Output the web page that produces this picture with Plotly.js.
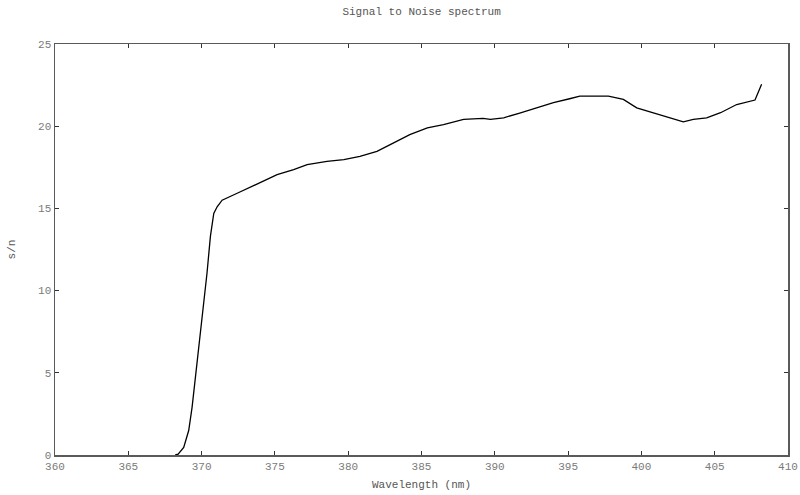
<!DOCTYPE html>
<html>
<head>
<meta charset="utf-8">
<script src="https://cdn.plot.ly/plotly-3.0.1.min.js"></script>
<style>html,body{margin:0;padding:0;background:#fff;}#chart{width:800px;height:495px;}</style>
</head>
<body>
<div id="chart"></div>
<script>
const wavelength = [368.2, 368.4, 368.78, 369.12, 369.35, 369.69, 370.03, 370.37, 370.6, 370.83, 371.06, 371.4, 372.5, 373.5, 374.4, 375.15, 376.28, 377.2, 378.55, 379.7, 380.8, 381.96, 383.1, 384.2, 385.4, 386.5, 387.87, 389.2, 389.7, 390.6, 391.7, 392.87, 394.0, 395.1, 395.8, 397.75, 398.77, 399.68, 400.8, 401.95, 402.86, 403.54, 404.45, 405.4, 406.5, 407.75, 408.2];
const snr = [0, 0.05, 0.46, 1.49, 2.9, 5.57, 8.2, 11.07, 13.3, 14.7, 15.1, 15.5, 15.95, 16.35, 16.75, 17.05, 17.36, 17.66, 17.86, 17.97, 18.17, 18.47, 18.99, 19.49, 19.9, 20.1, 20.41, 20.47, 20.41, 20.51, 20.8, 21.12, 21.43, 21.67, 21.83, 21.83, 21.63, 21.12, 20.82, 20.51, 20.27, 20.41, 20.51, 20.82, 21.32, 21.59, 22.55];
const xTicks = [360, 365, 370, 375, 380, 385, 390, 395, 400, 405, 410];
const yTicks = [0, 5, 10, 15, 20, 25];

const mono = '"Liberation Mono", "DejaVu Sans Mono", monospace';
const tickFont = {family: mono, size: 11, color: '#7a7a7a'};
const titleFont = {family: mono, size: 11, color: '#555'};
const axisCommon = {
  showgrid: false, zeroline: false, showline: true, linecolor: '#5a5a5a', linewidth: 1.5,
  mirror: 'ticks', ticks: 'inside', ticklen: 4, tickcolor: '#333', tickwidth: 1,
  tickfont: tickFont
};
Plotly.newPlot('chart', [{
  x: wavelength, y: snr, type: 'scatter', mode: 'lines',
  line: {color: '#000', width: 1.3}
}], {
  width: 800, height: 495,
  margin: {l: 55, r: 12, t: 44, b: 40},
  paper_bgcolor: '#fff', plot_bgcolor: '#fff',
  showlegend: false,
  title: {text: 'Signal to Noise spectrum', font: titleFont, x: 0.527, xanchor: 'center', y: 0.985, yanchor: 'top'},
  xaxis: Object.assign({}, axisCommon, {range: [360, 410], tickvals: xTicks, ticktext: xTicks.map(String),
    title: {text: 'Wavelength (nm)', font: titleFont, standoff: 8}}),
  yaxis: Object.assign({}, axisCommon, {range: [0, 25], tickvals: yTicks, ticktext: yTicks.map(String),
    title: {text: 's/n', font: titleFont, standoff: 20}})
}, {displayModeBar: false, staticPlot: true});
</script>
</body>
</html>
